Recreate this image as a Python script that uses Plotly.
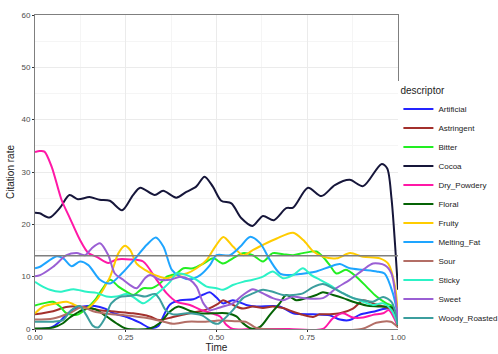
import plotly.graph_objects as go

# Smoothed citation-rate curves over normalised tasting time, one per descriptor
artificial_t = [0, 0.045, 0.068, 0.086, 0.106, 0.133, 0.165, 0.193, 0.216, 0.253, 0.289, 0.317, 0.34, 0.354, 0.372, 0.4, 0.436, 0.464, 0.482, 0.5, 0.518, 0.545, 0.582, 0.61, 0.674, 0.711, 0.766, 0.812, 0.84, 0.867, 0.894, 0.931, 0.968, 0.986, 1.0]
artificial_v = [0.0, 0.3, 1.4, 2.7, 3.8, 4.3, 4.4, 3.9, 3.0, 2.3, 1.2, 0.2, 0.6, 2.5, 4.7, 5.5, 5.7, 6.6, 7.0, 6.0, 4.9, 5.5, 4.6, 4.3, 4.3, 3.0, 2.8, 2.6, 1.8, 1.7, 2.7, 3.3, 3.9, 3.8, 0.4]

astringent_t = [0, 0.05, 0.086, 0.123, 0.15, 0.178, 0.224, 0.27, 0.316, 0.343, 0.38, 0.426, 0.472, 0.504, 0.518, 0.545, 0.573, 0.6, 0.628, 0.655, 0.683, 0.711, 0.738, 0.766, 0.784, 0.812, 0.84, 0.876, 0.904, 0.931, 0.959, 0.986, 1.0]
astringent_v = [2.8, 3.4, 4.2, 4.3, 4.0, 3.6, 3.3, 3.0, 2.4, 1.7, 2.3, 3.0, 3.7, 4.8, 5.5, 4.6, 3.9, 4.3, 4.0, 4.3, 4.0, 3.3, 2.7, 2.3, 2.8, 2.8, 3.0, 3.9, 5.5, 4.9, 4.3, 3.6, 0.6]

bitter_t = [0, 0.023, 0.05, 0.069, 0.087, 0.115, 0.142, 0.165, 0.184, 0.207, 0.23, 0.253, 0.271, 0.298, 0.321, 0.344, 0.363, 0.39, 0.409, 0.436, 0.464, 0.491, 0.518, 0.545, 0.573, 0.6, 0.628, 0.655, 0.683, 0.711, 0.738, 0.775, 0.793, 0.812, 0.83, 0.857, 0.885, 0.913, 0.941, 0.968, 0.986, 1.0]
bitter_v = [4.5, 4.9, 5.2, 4.3, 3.0, 2.7, 3.9, 5.5, 7.5, 9.4, 8.1, 7.1, 6.5, 7.8, 7.8, 8.7, 10.0, 10.6, 11.6, 11.6, 12.5, 13.5, 12.5, 13.5, 14.5, 14.1, 12.9, 14.5, 14.3, 14.1, 14.5, 14.8, 13.8, 12.2, 10.6, 11.3, 10.0, 8.1, 6.2, 4.9, 4.3, 0.4]

cocoa_t = [0, 0.013, 0.04, 0.068, 0.095, 0.118, 0.15, 0.178, 0.206, 0.24, 0.27, 0.29, 0.33, 0.353, 0.389, 0.417, 0.444, 0.467, 0.49, 0.513, 0.541, 0.568, 0.599, 0.628, 0.658, 0.692, 0.711, 0.752, 0.789, 0.826, 0.867, 0.904, 0.954, 0.97, 0.982, 0.992, 1.0]
cocoa_v = [22.2, 22.1, 21.3, 23.1, 25.6, 24.8, 25.2, 24.7, 24.5, 22.7, 25.6, 27.0, 25.6, 26.4, 25.1, 26.2, 27.2, 29.1, 27.2, 24.5, 24.0, 21.2, 19.7, 21.6, 20.8, 23.1, 23.2, 27.0, 25.4, 27.5, 28.5, 27.3, 31.5, 30.7, 25.0, 16.0, 7.5]

dry_powdery_t = [0, 0.013, 0.026, 0.046, 0.073, 0.096, 0.124, 0.147, 0.17, 0.202, 0.225, 0.262, 0.298, 0.335, 0.363, 0.39, 0.427, 0.459, 0.487, 0.51, 0.527, 0.545, 0.6, 0.7, 0.793, 0.82, 0.848, 0.876, 0.904, 0.931, 0.959, 0.975, 0.99, 1.0]
dry_powdery_v = [33.8, 34.0, 33.9, 31.0, 24.7, 21.2, 17.0, 14.5, 13.8, 12.6, 13.3, 13.3, 12.9, 9.4, 6.8, 5.2, 4.6, 3.6, 3.0, 2.4, 0.8, 0.0, 0.0, 0.0, 0.0, 2.0, 3.0, 2.2, 2.2, 2.7, 3.0, 3.6, 2.0, 0.3]

floral_t = [0, 0.05, 0.077, 0.096, 0.114, 0.141, 0.165, 0.197, 0.224, 0.25, 0.316, 0.343, 0.371, 0.395, 0.426, 0.45, 0.49, 0.527, 0.555, 0.573, 0.595, 0.62, 0.647, 0.674, 0.692, 0.72, 0.747, 0.775, 0.793, 0.821, 0.849, 0.876, 0.913, 0.95, 0.986, 1.0]
floral_v = [0.1, 0.3, 1.1, 2.2, 3.0, 3.9, 3.8, 2.4, 1.1, 0.1, 0.1, 1.1, 3.3, 4.3, 3.5, 3.0, 3.0, 3.0, 2.4, 1.1, 0.1, 0.4, 2.7, 4.9, 6.5, 5.5, 5.9, 6.5, 7.0, 6.5, 5.9, 5.2, 4.5, 4.3, 4.0, 0.3]

fruity_t = [0, 0.023, 0.06, 0.087, 0.124, 0.145, 0.17, 0.19, 0.207, 0.23, 0.248, 0.262, 0.28, 0.303, 0.331, 0.363, 0.39, 0.418, 0.445, 0.473, 0.496, 0.519, 0.546, 0.574, 0.601, 0.629, 0.666, 0.711, 0.739, 0.767, 0.794, 0.831, 0.868, 0.904, 0.95, 0.973, 0.992, 1.0]
fruity_v = [3.0, 4.3, 4.9, 5.2, 4.2, 4.0, 5.6, 7.8, 10.0, 14.5, 15.9, 15.1, 12.5, 11.3, 10.3, 9.7, 10.3, 10.6, 11.6, 13.2, 15.7, 17.6, 15.7, 14.1, 15.1, 16.1, 17.3, 18.4, 17.0, 14.8, 13.8, 13.5, 14.5, 13.8, 13.5, 12.5, 8.1, 1.7]

melting_fat_t = [0, 0.014, 0.06, 0.078, 0.101, 0.124, 0.147, 0.179, 0.207, 0.239, 0.28, 0.308, 0.333, 0.354, 0.377, 0.4, 0.427, 0.455, 0.482, 0.5, 0.537, 0.565, 0.592, 0.62, 0.647, 0.675, 0.702, 0.73, 0.775, 0.812, 0.84, 0.867, 0.904, 0.941, 0.963, 0.986, 1.0]
melting_fat_v = [11.6, 11.9, 13.9, 13.5, 12.0, 12.9, 12.2, 9.4, 8.7, 10.6, 13.8, 16.1, 17.5, 15.7, 11.3, 10.0, 9.5, 10.3, 12.2, 14.1, 14.1, 15.7, 17.6, 16.4, 13.2, 10.6, 10.3, 10.5, 11.0, 11.9, 12.4, 11.6, 11.3, 11.0, 10.6, 6.8, 2.4]

sour_t = [0, 0.05, 0.1, 0.13, 0.16, 0.2, 0.25, 0.3, 0.35, 0.38, 0.42, 0.47, 0.5, 0.55, 0.58, 0.61, 0.63, 0.9, 0.94, 0.98, 1.0]
sour_v = [1.8, 2.0, 3.2, 4.2, 3.4, 2.9, 2.6, 2.2, 1.5, 1.0, 1.4, 1.4, 1.6, 1.5, 1.4, 0.2, 0.0, 0.0, 1.2, 1.4, 0.3]

sticky_t = [0, 0.014, 0.041, 0.069, 0.106, 0.142, 0.17, 0.197, 0.225, 0.253, 0.275, 0.298, 0.326, 0.354, 0.372, 0.39, 0.418, 0.445, 0.473, 0.5, 0.518, 0.545, 0.573, 0.6, 0.628, 0.655, 0.683, 0.711, 0.738, 0.761, 0.785, 0.812, 0.849, 0.877, 0.904, 0.931, 0.959, 0.982, 1.0]
sticky_v = [9.0, 8.4, 7.5, 7.1, 7.6, 7.1, 6.9, 6.2, 6.2, 6.7, 5.9, 4.9, 6.2, 7.8, 9.0, 10.6, 10.3, 9.4, 8.1, 7.8, 7.5, 8.4, 9.0, 9.4, 10.0, 11.0, 9.7, 10.3, 11.6, 10.3, 9.4, 8.4, 6.8, 5.9, 5.2, 4.6, 4.9, 3.6, 0.8]

sweet_t = [0, 0.014, 0.05, 0.087, 0.115, 0.138, 0.156, 0.179, 0.202, 0.22, 0.243, 0.262, 0.28, 0.303, 0.317, 0.344, 0.372, 0.4, 0.427, 0.445, 0.464, 0.482, 0.5, 0.518, 0.545, 0.573, 0.6, 0.628, 0.655, 0.683, 0.711, 0.738, 0.793, 0.83, 0.867, 0.904, 0.931, 0.963, 0.982, 1.0]
sweet_v = [10.1, 10.3, 11.9, 14.1, 14.5, 14.1, 15.4, 16.4, 14.1, 10.6, 9.4, 8.4, 7.8, 9.7, 10.3, 9.4, 9.4, 10.0, 9.4, 8.1, 4.9, 3.6, 3.9, 4.3, 4.9, 6.5, 7.6, 6.8, 5.9, 5.5, 6.2, 5.9, 5.9, 7.8, 9.4, 11.3, 12.5, 12.2, 10.6, 1.1]

woody_roasted_t = [0, 0.05, 0.077, 0.1, 0.123, 0.141, 0.16, 0.174, 0.192, 0.21, 0.233, 0.256, 0.28, 0.303, 0.331, 0.345, 0.36, 0.38, 0.42, 0.46, 0.49, 0.505, 0.518, 0.545, 0.573, 0.6, 0.628, 0.655, 0.683, 0.711, 0.738, 0.766, 0.793, 0.821, 0.849, 0.877, 0.904, 0.931, 0.959, 0.982, 1.0]
woody_roasted_v = [1.4, 1.4, 1.7, 3.6, 4.4, 2.7, 0.6, 0.3, 2.0, 4.9, 6.1, 6.3, 6.5, 6.2, 6.7, 5.5, 3.6, 2.8, 3.0, 2.6, 1.2, 1.0, 1.7, 3.6, 5.9, 6.8, 7.5, 7.1, 6.5, 6.5, 6.8, 8.0, 8.6, 7.8, 6.8, 5.9, 5.5, 5.2, 6.1, 5.2, 0.8]

descriptors = ["Artificial", "Astringent", "Bitter", "Cocoa", "Dry_Powdery", "Floral",
               "Fruity", "Melting_Fat", "Sour", "Sticky", "Sweet", "Woody_Roasted"]
series = [
    (artificial_t, artificial_v), (astringent_t, astringent_v), (bitter_t, bitter_v),
    (cocoa_t, cocoa_v), (dry_powdery_t, dry_powdery_v), (floral_t, floral_v),
    (fruity_t, fruity_v), (melting_fat_t, melting_fat_v), (sour_t, sour_v),
    (sticky_t, sticky_v), (sweet_t, sweet_v), (woody_roasted_t, woody_roasted_v),
]
colors = ["#2424ff", "#a3302c", "#22ee22", "#16163a", "#ff18a6", "#056305",
          "#ffcc00", "#1ea5ff", "#b36e66", "#2cf2c6", "#9a5fd4", "#3c9e9e"]

significance_level = 14
x_ticks = [0, 0.25, 0.5, 0.75, 1.0]
x_tick_text = ["0.00", "0.25", "0.50", "0.75", "1.00"]
y_ticks = [0, 10, 20, 30, 40, 50, 60]

fig = go.Figure()
for name, (t, v), col in zip(descriptors, series, colors):
    fig.add_trace(go.Scatter(
        x=t, y=v, name=name, mode="lines",
        line=dict(color=col, width=2, shape="spline", smoothing=0.8),
    ))

fig.add_shape(type="line", xref="paper", x0=0, x1=1, yref="y",
              y0=significance_level, y1=significance_level,
              line=dict(color="#7f7f7f", width=1.5), layer="above")

axis_common = dict(
    showline=True, linecolor="#7f7f7f", linewidth=1, mirror=True,
    showgrid=True, gridcolor="#ebebeb", gridwidth=1,
    ticks="outside", ticklen=2, tickcolor="#333333", tickwidth=1,
    tickfont=dict(size=8, color="#4d4d4d"), zeroline=False, automargin=False,
)

fig.update_layout(
    width=498, height=354,
    margin=dict(l=35, r=100, t=15, b=25, autoexpand=False),
    paper_bgcolor="white", plot_bgcolor="white",
    font=dict(family="Liberation Sans, Arial, sans-serif", color="#222222"),
    xaxis=dict(range=[0, 1], tickvals=x_ticks, ticktext=x_tick_text,
               ticklabelstandoff=-2,
               title=dict(text="Time", font=dict(size=10), standoff=0),
               minor=dict(showgrid=True, gridcolor="#f5f5f5", dtick=0.125, ticks=""),
               **axis_common),
    yaxis=dict(range=[0, 60], tickvals=y_ticks,
               title=dict(text="Citation rate", font=dict(size=10), standoff=4),
               minor=dict(showgrid=True, gridcolor="#f5f5f5", dtick=5, ticks=""),
               **axis_common),
    legend=dict(
        title=dict(text="descriptor", font=dict(size=10)),
        font=dict(size=8, color="#222222"),
        xref="container", x=0.8, xanchor="left",
        yref="container", y=0.77, yanchor="top",
        maxheight=1,
        tracegroupgap=0, itemwidth=30,
    ),
    showlegend=True,
)

fig.write_html("out.html")
